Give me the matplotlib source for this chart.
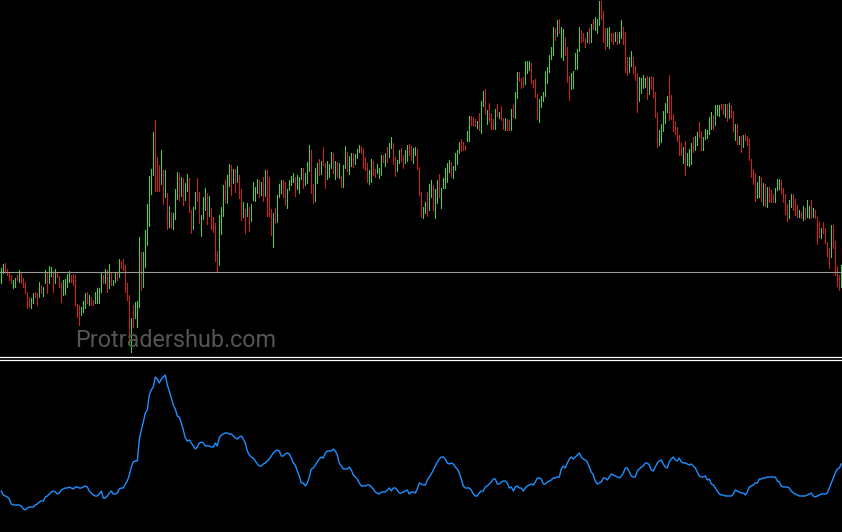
import numpy as np
import matplotlib
matplotlib.use("Agg")
import matplotlib.pyplot as plt
from matplotlib.lines import Line2D

# ----------------- DATA -----------------

# bar highs / lows in points, one bar per period
high = [
    732, 736, 737, 731, 728, 725, 720, 722, 725, 730,
    728, 722, 718, 708, 703, 702, 707, 708, 707, 718,
    715, 713, 730, 728, 734, 733, 729, 731, 728, 724,
    718, 720, 721, 726, 729, 725, 726, 725, 696, 695,
    693, 699, 707, 708, 705, 703, 700, 708, 712, 712,
    728, 725, 731, 730, 736, 727, 720, 727, 727, 741,
    739, 741, 735, 717, 705, 682, 695, 698, 699, 763,
    748, 748, 770, 796, 824, 831, 868, 880, 843, 835,
    850, 830, 830, 807, 794, 788, 787, 811, 828, 827,
    823, 822, 817, 826, 822, 790, 793, 808, 822, 808,
    785, 803, 812, 807, 804, 792, 783, 777, 749, 785,
    793, 815, 820, 825, 836, 835, 831, 831, 834, 825,
    811, 798, 791, 797, 793, 796, 818, 813, 821, 820,
    818, 823, 830, 830, 823, 791, 787, 792, 805, 816,
    820, 820, 818, 811, 820, 824, 827, 823, 825, 823,
    832, 832, 827, 838, 855, 850, 816, 832, 837, 841,
    839, 853, 837, 839, 836, 848, 847, 839, 838, 837,
    824, 835, 854, 848, 844, 847, 847, 846, 851, 855,
    854, 852, 843, 837, 830, 841, 839, 831, 836, 832,
    845, 845, 847, 853, 857, 863, 857, 843, 840, 850,
    852, 845, 850, 855, 856, 854, 852, 853, 851, 833,
    808, 793, 798, 808, 816, 820, 815, 811, 820, 826,
    812, 822, 832, 837, 840, 838, 834, 847, 850, 858,
    861, 858, 855, 869, 884, 884, 883, 881, 879, 887,
    899, 909, 911, 890, 897, 887, 881, 891, 896, 888,
    894, 882, 882, 881, 880, 891, 895, 908, 928, 928,
    922, 923, 939, 939, 939, 937, 920, 921, 906, 901,
    904, 908, 929, 933, 945, 953, 973, 972, 980, 981,
    973, 971, 963, 953, 924, 927, 929, 947, 951, 973,
    970, 967, 962, 968, 972, 976, 981, 983, 981, 999,
    999, 989, 972, 972, 973, 967, 967, 968, 968, 968,
    980, 973, 968, 943, 943, 949, 943, 934, 927, 923,
    922, 925, 922, 924, 923, 924, 923, 908, 887, 870,
    876, 889, 897, 904, 925, 905, 886, 879, 873, 865,
    857, 853, 859, 847, 851, 857, 863, 864, 868, 878,
    869, 863, 871, 870, 883, 888, 885, 895, 895, 895,
    896, 896, 896, 896, 897, 895, 889, 876, 876, 864,
    864, 865, 866, 864, 862, 841, 831, 827, 818, 824,
    823, 817, 816, 813, 813, 810, 806, 812, 821, 821,
    820, 812, 806, 796, 800, 806, 806, 801, 795, 790,
    788, 794, 792, 800, 794, 800, 792, 790, 783, 778,
    772, 778, 772, 758, 752, 775, 775, 759, 734, 725,
    735,
]

low = [
    717, 727, 729, 725, 720, 717, 712, 713, 720, 718,
    717, 713, 707, 692, 693, 692, 697, 703, 695, 703,
    707, 704, 717, 707, 717, 724, 708, 717, 723, 713,
    698, 705, 706, 713, 718, 718, 715, 695, 683, 675,
    685, 688, 692, 697, 695, 695, 695, 697, 697, 697,
    708, 717, 717, 708, 712, 715, 715, 718, 720, 723,
    732, 730, 708, 700, 660, 648, 673, 682, 673, 693,
    710, 713, 733, 755, 774, 806, 825, 809, 809, 809,
    816, 796, 803, 771, 773, 772, 771, 781, 801, 800,
    804, 795, 800, 809, 788, 767, 771, 791, 799, 777,
    764, 781, 790, 776, 784, 771, 768, 739, 729, 735,
    766, 784, 798, 797, 814, 805, 817, 808, 818, 802,
    780, 783, 767, 784, 769, 779, 800, 799, 807, 803,
    805, 799, 804, 784, 784, 765, 753, 777, 778, 803,
    807, 803, 795, 792, 810, 815, 818, 804, 811, 807,
    821, 812, 815, 817, 829, 807, 797, 799, 817, 825,
    826, 835, 812, 821, 823, 832, 827, 821, 823, 822,
    813, 813, 832, 829, 826, 834, 833, 836, 842, 848,
    847, 832, 830, 818, 816, 818, 825, 823, 827, 822,
    825, 838, 834, 838, 843, 852, 836, 824, 829, 837,
    839, 832, 837, 839, 845, 840, 837, 845, 831, 805,
    783, 782, 787, 784, 790, 803, 790, 782, 797, 803,
    792, 812, 812, 818, 828, 823, 822, 830, 836, 847,
    849, 850, 850, 859, 859, 875, 875, 874, 872, 870,
    867, 894, 886, 876, 879, 871, 871, 871, 884, 882,
    880, 871, 870, 870, 870, 870, 883, 882, 902, 919,
    912, 913, 916, 927, 930, 917, 913, 903, 881, 878,
    893, 899, 904, 917, 928, 941, 945, 960, 964, 967,
    943, 940, 945, 918, 900, 911, 912, 931, 931, 949,
    958, 959, 953, 958, 957, 958, 971, 970, 967, 975,
    981, 958, 951, 954, 952, 959, 956, 959, 956, 957,
    962, 956, 928, 925, 928, 934, 927, 920, 888, 899,
    907, 912, 913, 901, 906, 911, 903, 883, 853, 855,
    858, 869, 877, 888, 880, 881, 869, 866, 859, 845,
    845, 837, 825, 835, 834, 836, 848, 850, 855, 863,
    850, 850, 861, 862, 866, 871, 871, 875, 885, 884,
    891, 886, 883, 879, 882, 883, 869, 860, 856, 856,
    848, 853, 860, 855, 840, 823, 816, 799, 802, 803,
    799, 795, 794, 793, 798, 798, 798, 798, 810, 811,
    807, 798, 786, 779, 782, 793, 790, 785, 783, 783,
    782, 780, 781, 783, 782, 782, 783, 782, 756, 763,
    762, 767, 757, 744, 732, 743, 752, 725, 714, 710,
    713,
]

# g = up bar, r = down bar
bar_dir = (
    "ggrrrrggrg" "rrrrrggrrg" "rggrggrgrr" "rggggrrrrr" "gggrgrrggg"
    "grgrgrggrg" "rrrrrgrggg" "rggggggrrr" "grgrgrgggr" "grggrrggrr"
    "gggrgrrrrg" "ggrggrgrgr" "rgrgrggggr" "grgrrrgrgg" "grrggggrgg"
    "grgggrrggr" "grrgggrgrg" "rggrggrggg" "rrrrggrrgg" "grgrggrrgg"
    "rrggrrggrr" "rggrggrggr" "gggggrgggg" "rrrggrrrgr" "ggrgrrrgrg"
    "rrgrrgrggr" "rrgggrrrrg" "gggggggrgr" "ggrrrggggg" "rrrgrgrggg"
    "rrrggrrgrg" "grrrggrrrg" "gggrgrrrrg" "ggggrrrrrr" "rgrgggrggr"
    "rgggggrggg" "rrgrgrrgrg" "rgrrrrrrgg" "rgrgrrrggg" "rrrrggrrrg"
    "rgrggrgrrr" "grrrrgrrrr" "g"
)

# volatility indicator, lower window
atr = [
    49, 45, 44, 43, 41, 36, 35, 35, 35, 35,
    34, 31, 30, 32, 33, 33, 33, 35, 36, 38,
    39, 39, 43, 44, 46, 48, 49, 48, 46, 47,
    50, 51, 52, 52, 53, 52, 51, 53, 53, 52,
    52, 53, 54, 53, 49, 47, 45, 44, 44, 46,
    49, 42, 42, 44, 47, 49, 46, 46, 47, 51,
    52, 52, 56, 59, 65, 73, 78, 79, 79, 100,
    110, 118, 127, 130, 145, 150, 153, 163, 161, 157,
    161, 163, 165, 155, 149, 142, 135, 131, 124, 123,
    117, 110, 102, 99, 100, 97, 94, 91, 93, 97,
    98, 97, 94, 94, 94, 93, 93, 97, 94, 102,
    105, 106, 107, 107, 106, 106, 104, 102, 101, 103,
    104, 101, 97, 89, 85, 83, 82, 79, 76, 74,
    74, 76, 77, 79, 81, 84, 87, 89, 90, 89,
    84, 84, 86, 87, 86, 82, 77, 75, 69, 64,
    57, 57, 54, 57, 63, 71, 72, 75, 78, 81,
    83, 82, 87, 89, 89, 89, 91, 89, 85, 77,
    74, 71, 71, 71, 73, 70, 65, 63, 61, 57,
    54, 54, 54, 55, 55, 53, 51, 48, 47, 46,
    48, 48, 48, 50, 52, 49, 52, 52, 50, 47,
    47, 48, 49, 50, 46, 48, 48, 47, 51, 57,
    56, 55, 55, 60, 63, 66, 70, 74, 78, 81,
    83, 83, 81, 77, 76, 77, 76, 73, 71, 67,
    61, 54, 52, 52, 52, 50, 46, 44, 44, 47,
    49, 49, 53, 54, 56, 58, 61, 61, 56, 56,
    58, 59, 59, 57, 52, 53, 49, 53, 54, 52,
    52, 49, 52, 54, 55, 56, 55, 58, 62, 62,
    61, 56, 56, 58, 59, 60, 62, 62, 63, 63,
    71, 74, 72, 77, 81, 83, 81, 83, 85, 87,
    83, 81, 80, 78, 73, 68, 65, 59, 56, 57,
    58, 62, 62, 60, 63, 66, 65, 64, 63, 62,
    64, 67, 72, 72, 68, 64, 63, 63, 69, 71,
    73, 74, 77, 77, 75, 70, 69, 73, 77, 79,
    80, 76, 73, 72, 78, 81, 83, 80, 79, 82,
    78, 77, 77, 76, 75, 76, 74, 72, 68, 64,
    63, 63, 64, 60, 61, 56, 55, 52, 49, 46,
    45, 45, 44, 44, 44, 44, 46, 50, 49, 48,
    47, 47, 45, 48, 53, 54, 55, 57, 57, 61,
    61, 62, 62, 63, 63, 63, 63, 63, 59, 58,
    54, 53, 53, 53, 52, 49, 47, 46, 45, 44,
    44, 44, 44, 45, 46, 47, 44, 43, 44, 45,
    46, 46, 46, 47, 52, 57, 62, 67, 71, 72,
    76,
]

level = 728
watermark = "Protradershub.com"

# ----------------- STYLE -----------------

UP = "#35e01c"
DOWN = "#e01818"
LINE = "#1e90ff"
W, H = 842, 532

fig = plt.figure(figsize=(W / 100, H / 100), dpi=100, facecolor="black")


def px_axes(top, bottom):
    ax = fig.add_axes([0, 1 - bottom / H, 1, (bottom - top) / H])
    ax.set_facecolor("black")
    ax.set_axis_off()
    return ax


x = np.arange(len(high))
colors = [UP if c == "g" else DOWN for c in bar_dir]

# price window
ax = px_axes(0, 355)
ax.vlines(x, low, high, colors=colors, linewidth=0.5, antialiased=False)
ax.axhline(level, color="#9a9a9a", linewidth=0.8)
ax.set_xlim(-0.65, len(high) - 0.65)
ax.set_ylim(645, 1000)

# indicator window
ax2 = px_axes(361, 532)
ax2.plot(x, atr, color=LINE, linewidth=1.0)
ax2.set_xlim(-0.65, len(high) - 0.65)
ax2.set_ylim(8, 179)

# double separator between windows
for ypx in (356.5, 359.5):
    fig.add_artist(Line2D([0, 1], [1 - ypx / H] * 2, transform=fig.transFigure,
                          color="white", linewidth=0.9))

fig.text(75 / W, 1 - 347 / H, watermark, color="#555555", fontsize=16.8,
         family="Roboto", ha="left", va="baseline")

fig.savefig("out.png", dpi=100, facecolor="black")
